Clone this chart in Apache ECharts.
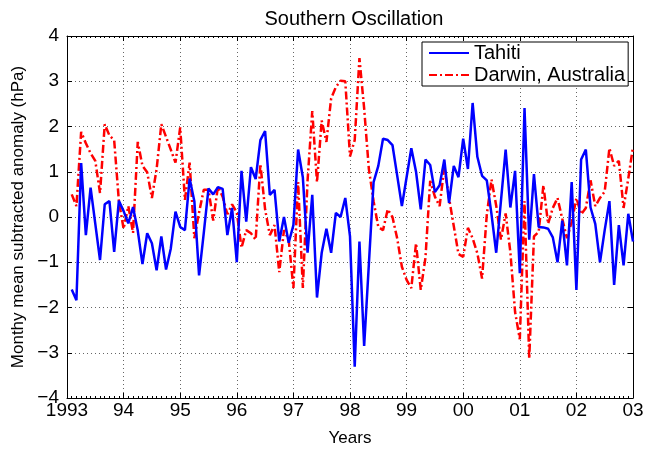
<!DOCTYPE html>
<html>
<head>
<meta charset="utf-8">
<script src="https://cdn.jsdelivr.net/npm/echarts@6/dist/echarts.min.js"></script>
<style>
html,body{margin:0;padding:0;background:#fff;}
#chart{width:647px;height:452px;}
</style>
</head>
<body>
<div id="chart"></div>
<script>
// Monthly samples, Jan 1993 .. Dec 2002 (month index 1..120)
var startYear = 1993;
var tickLabels = ['1993','94','95','96','97','98','99','00','01','02','03'];
var tahiti = [
 -1.6,-1.84,1.19,-0.4,0.65,-0.15,-0.95,0.28,0.35,-0.77,0.36,0.13,
 -0.14,0.22,-0.3,-1.04,-0.36,-0.58,-1.18,-0.43,-1.16,-0.7,0.12,-0.22,
 -0.29,0.85,0.35,-1.29,-0.35,0.63,0.5,0.66,0.62,-0.4,0.2,-1.0,
 1.02,-0.1,1.1,0.84,1.7,1.9,0.49,0.6,-0.54,0.0,-0.57,-0.18,
 1.49,0.88,-0.79,0.49,-1.78,-0.79,-0.26,-0.79,0.09,0.0,0.42,-0.43,
 -3.31,-0.54,-2.85,-1.04,0.77,1.13,1.73,1.7,1.59,0.92,0.24,0.88,
 1.52,1.0,0.17,1.27,1.15,0.55,0.7,1.27,0.31,1.13,0.88,1.73,
 1.06,2.52,1.33,0.91,0.81,0.06,-0.79,0.35,1.49,0.21,1.02,-1.24,
 2.41,-0.5,0.95,-0.22,-0.23,-0.26,-0.45,-1.0,-0.08,-1.07,0.77,-1.61,
 1.27,1.49,0.21,-0.15,-1.0,-0.29,0.35,-1.5,-0.18,-1.07,0.07,-0.54
];
var darwin = [
 0.5,0.24,1.88,1.63,1.41,1.24,0.53,2.05,1.8,1.7,0.35,-0.26,
 0.24,-0.35,1.66,1.13,0.99,0.42,1.06,2.05,1.77,1.49,1.2,1.98,
 0.38,1.2,-0.47,0.1,0.6,0.6,-0.08,0.67,0.45,0.06,0.28,0.1,
 -0.68,-0.29,-0.36,-0.5,1.17,0.17,-0.4,-0.18,-1.22,-0.29,-0.5,-1.57,
 0.77,-1.57,0.8,2.34,0.77,2.13,1.66,2.62,2.87,3.01,3.0,1.34,
 1.7,3.51,2.4,1.06,0.35,-0.22,-0.29,0.17,0.0,-0.47,-1.1,-1.39,
 -1.57,-0.58,-1.61,-0.9,0.8,0.45,0.24,1.1,0.42,-0.2,-0.82,-0.88,
 -0.24,-0.47,-0.8,-1.36,0.05,0.83,0.25,-0.5,0.08,-0.78,-2.1,-2.7,
 0.35,-3.13,-0.43,-0.33,0.7,-0.15,0.2,0.42,-0.04,-0.47,-0.11,0.42,
 0.06,0.2,0.81,0.24,0.42,0.56,1.52,1.13,1.24,0.2,0.85,1.55
];
var seriesNames = ['Tahiti','Darwin, Australia'];

function toPairs(vals){
  return vals.map(function(v,i){ return [startYear + (i+1)/12, v]; });
}

var FONT = '"Liberation Sans", Arial, Helvetica, sans-serif';
var chart = echarts.init(document.getElementById('chart'), null, {renderer:'canvas'});
var xCommon = {
  type:'value', min:1993, max:2003, interval:1,
  axisLine:{show:true, onZero:false, lineStyle:{color:'#000', width:1}},
  axisTick:{show:true, inside:true, length:5, lineStyle:{color:'#000'}},
  minorTick:{show:true, splitNumber:12, length:2, lineStyle:{color:'#000'}}
};
var yCommon = {
  type:'value', min:-4, max:4, interval:1,
  axisLine:{show:true, onZero:false, lineStyle:{color:'#000', width:1}},
  axisTick:{show:true, inside:true, length:5, lineStyle:{color:'#000'}}
};
var gridLine = {show:true, lineStyle:{color:'#666', type:[1,3], width:1}};
var option = {
  backgroundColor:'#fff',
  animation:false,
  title:{
    text:'Southern Oscillation', left:349, top:4, textAlign:'center',
    textStyle:{fontFamily:FONT, fontSize:20, fontWeight:'normal', color:'#000'}
  },
  legend:{
    orient:'vertical', left:422, top:42,
    backgroundColor:'#fff', borderColor:'#000', borderWidth:1, borderRadius:0,
    padding:[1,3,1,6], itemGap:2, itemWidth:40, itemHeight:14,
    itemStyle:{opacity:0},
    textStyle:{fontFamily:FONT, fontSize:20, color:'#000'},
    data:seriesNames
  },
  grid:{left:67, right:14, top:36, bottom:41, containLabel:false},
  xAxis:[
    Object.assign({}, xCommon, {
      position:'bottom',
      name:'Years', nameLocation:'middle', nameGap:32,
      nameTextStyle:{fontFamily:FONT, fontSize:17, color:'#000'},
      axisLabel:{show:true, margin:3, fontFamily:FONT, fontSize:19, color:'#000',
        formatter:function(v){ var k=Math.round(v-1993); return tickLabels[k]!==undefined?tickLabels[k]:''; }},
      splitLine:gridLine
    }),
    Object.assign({}, xCommon, {
      position:'top', axisLabel:{show:false}, splitLine:{show:false}
    })
  ],
  yAxis:[
    Object.assign({}, yCommon, {
      position:'left',
      name:'Monthy mean subtracted anomaly (hPa)', nameLocation:'middle', nameGap:34,
      nameTextStyle:{fontFamily:FONT, fontSize:17, color:'#000'},
      axisLabel:{show:true, margin:8, fontFamily:FONT, fontSize:19, color:'#000',
        formatter:function(v){ return String(v).replace('-', '\u2212'); }},
      splitLine:gridLine
    }),
    Object.assign({}, yCommon, {
      position:'right', axisLabel:{show:false}, splitLine:{show:false}
    })
  ],
  series:[
    {
      name:seriesNames[0], type:'line', xAxisIndex:0, yAxisIndex:0,
      data:toPairs(tahiti), symbol:'none', showSymbol:false,
      lineStyle:{color:'#0000ff', width:2.5, type:'solid'},
      itemStyle:{color:'#0000ff'}, z:3
    },
    {
      name:seriesNames[1], type:'line', xAxisIndex:0, yAxisIndex:0,
      data:toPairs(darwin), symbol:'none', showSymbol:false,
      lineStyle:{color:'#ff0000', width:2.5, type:[8,3,2,3]},
      itemStyle:{color:'#ff0000'}, z:2
    }
  ]
};
chart.setOption(option);
</script>
</body>
</html>
